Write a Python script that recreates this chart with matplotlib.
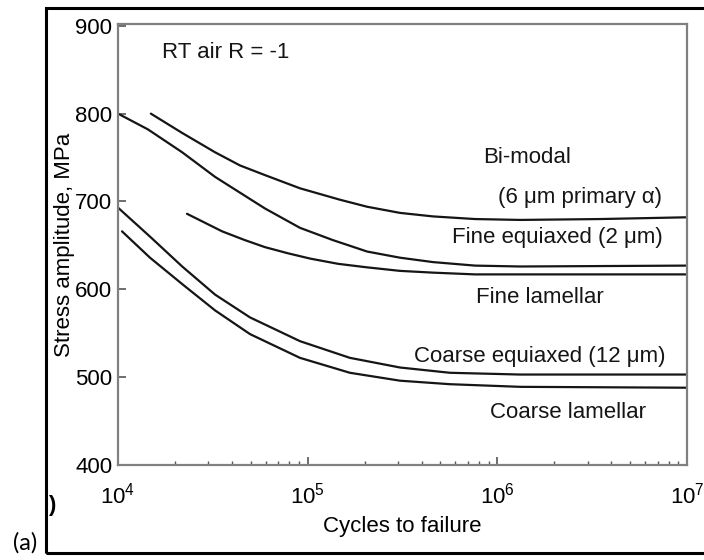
import matplotlib
matplotlib.use("Agg")
import matplotlib.pyplot as plt
from matplotlib.patches import Rectangle
from matplotlib.ticker import LogLocator, FixedLocator, NullFormatter

plt.rcParams['font.family'] = ['Liberation Sans', 'DejaVu Sans']
plt.rcParams['mathtext.fontset'] = 'custom'
plt.rcParams['mathtext.rm'] = 'Liberation Sans'

# S-N curves: cycles to failure vs stress amplitude (MPa)
bimodal_n = [1.49e4, 2.18e4, 3.25e4, 4.40e4, 5.96e4, 9.11e4, 1.48e5, 2.06e5,
             3.07e5, 4.58e5, 7.63e5, 1.32e6, 3.48e6, 1.0e7]
bimodal_s = [800, 778, 756, 741, 730, 715, 702, 694, 687, 683, 680, 679, 680, 682]

fine_eq_n = [1.0e4, 1.44e4, 2.18e4, 3.25e4, 4.40e4, 5.96e4, 9.11e4, 1.36e5,
             2.06e5, 3.07e5, 4.58e5, 7.63e5, 1.32e6, 1.0e7]
fine_eq_s = [800, 782, 756, 728, 710, 692, 670, 656, 643, 636, 631, 627, 626, 627]

fine_lam_n = [2.31e4, 3.54e4, 4.67e4, 5.96e4, 7.88e4, 1.03e5, 1.45e5, 2.06e5,
              3.07e5, 4.58e5, 7.63e5, 1.32e6, 1.0e7]
fine_lam_s = [686, 666, 656, 648, 641, 635, 629, 625, 621, 619, 617, 617, 617]

coarse_eq_n = [1.0e4, 1.475e4, 2.18e4, 3.25e4, 4.97e4, 9.11e4, 1.67e5, 3.07e5,
               5.63e5, 1.32e6, 1.0e7]
coarse_eq_s = [693, 660, 626, 594, 568, 541, 522, 511, 505, 503, 503]

coarse_lam_n = [1.05e4, 1.475e4, 2.18e4, 3.25e4, 4.97e4, 9.11e4, 1.67e5, 3.07e5,
                5.63e5, 1.32e6, 1.0e7]
coarse_lam_s = [666, 636, 606, 576, 549, 522, 505, 496, 492, 489, 488]

series = [
    (bimodal_n, bimodal_s),
    (fine_eq_n, fine_eq_s),
    (fine_lam_n, fine_lam_s),
    (coarse_eq_n, coarse_eq_s),
    (coarse_lam_n, coarse_lam_s),
]

y_ticks = [400, 500, 600, 700, 800, 900]
x_ticks = [1e4, 1e5, 1e6, 1e7]

# curve labels: (text, x in axes fraction, y in axes fraction)
curve_labels = [
    ("Bi-modal", 0.719, 0.698),
    ("(6 μm primary α)", 0.812, 0.607),
    ("Fine equiaxed (2 μm)", 0.773, 0.515),
    ("Fine lamellar", 0.742, 0.381),
    ("Coarse equiaxed (12 μm)", 0.742, 0.247),
    ("Coarse lamellar", 0.791, 0.120),
]

fig = plt.figure(figsize=(7.04, 5.6), dpi=100)
ax = fig.add_axes([0.1676, 0.1696, 0.8082, 0.7875])

for n, s in series:
    ax.plot(n, s, color='#151515', lw=1.6, solid_capstyle='round',
            solid_joinstyle='round')

ax.set_xscale('log')
ax.set_xlim(1e4, 1e7)
ax.set_ylim(400, 902)
ax.set_yticks(y_ticks)
ax.xaxis.set_major_locator(FixedLocator(x_ticks))
ax.xaxis.set_minor_locator(LogLocator(base=10, subs=range(2, 10)))
ax.xaxis.set_minor_formatter(NullFormatter())

ax.tick_params(axis='y', direction='in', length=6, width=1.2, color='#555555',
               labelsize=16, pad=4)
ax.tick_params(axis='x', which='major', direction='in', length=6, width=1.2,
               color='#555555', labelsize=16, pad=13)
ax.tick_params(axis='x', which='minor', direction='in', length=3, width=1.0,
               color='#555555')
ax.tick_params(axis='y', which='minor', left=False)

for side, sp in ax.spines.items():
    sp.set_color('#808080')
    sp.set_linewidth(1.6)

ax.set_xlabel("Cycles to failure", fontsize=16, labelpad=5)
ax.set_ylabel("Stress amplitude, MPa", fontsize=16, labelpad=0)

ax.text(0.077, 0.935, "RT air R = -1", transform=ax.transAxes, fontsize=16,
        ha='left', va='center', color='#151515')

for txt, fx, fy in curve_labels:
    ax.text(fx, fy, txt, transform=ax.transAxes, fontsize=16,
            ha='center', va='center', color='#151515')

# outer panel frame and panel tag
fig.patches.append(Rectangle((46 / 704, (560 - 553) / 560), 0.99, (553 - 8) / 560,
                             transform=fig.transFigure, fill=False,
                             edgecolor='black', lw=2.2, zorder=0))
fig.text(13 / 704, (560 - 543) / 560, "(a)", fontsize=17, family=['Lato', 'DejaVu Sans'],
         ha='left', va='center')
fig.text(48 / 704, (560 - 505) / 560, ")", fontsize=16, fontweight='bold',
         ha='left', va='center')

fig.savefig("out.png", dpi=100)
